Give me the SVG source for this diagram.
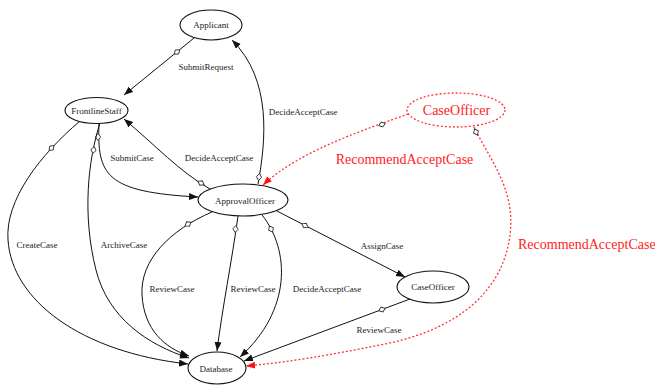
<svg xmlns="http://www.w3.org/2000/svg" xmlns:xlink="http://www.w3.org/1999/xlink" width="655" height="387" viewBox="0 0 655 387">
<style>
.node{fill:#fff;stroke:#111;stroke-width:1.1}
.rnode{fill:none;stroke:#ff3333;stroke-width:1.3;stroke-dasharray:2,2}
.e{fill:none;stroke:#111;stroke-width:1}
.re{fill:none;stroke:#ff3333;stroke-width:1.3;stroke-dasharray:2,2}
.t{font-family:"Liberation Serif","Times New Roman",serif;font-size:9px;fill:#222;text-anchor:middle}
.rt{font-family:"Liberation Serif","Times New Roman",serif;font-size:14px;fill:#ff2222}
</style>
<defs>
<marker id="ah" markerUnits="userSpaceOnUse" markerWidth="10" markerHeight="8" refX="9" refY="3.5" orient="auto"><path d="M0,0 L9,3.5 L0,7 Z" fill="#111"/></marker>
<marker id="rah" markerUnits="userSpaceOnUse" markerWidth="10" markerHeight="8" refX="9" refY="3.5" orient="auto"><path d="M0,0 L9,3.5 L0,7 Z" fill="#ff1111"/></marker>
<path id="dm" d="M-3.5,0 L0,-2.6 L3.5,0 L0,2.6 Z" fill="#fff" stroke="#333" stroke-width="0.9"/>
</defs>
<rect width="655" height="387" fill="#fff"/>
<g id="connectors">
<path class="e" d="M194,38 L124,95" marker-end="url(#ah)"/>
<use xlink:href="#dm" transform="translate(177,52) rotate(141)"/>
<text class="t" x="206" y="70">SubmitRequest</text>

<path class="e" d="M258,184 C266,140 272,80 232,40" marker-end="url(#ah)"/>
<use xlink:href="#dm" transform="translate(259,177) rotate(-80)"/>
<text class="t" x="303" y="115">DecideAcceptCase</text>

<path class="e" d="M210,189 C180,172 155,145 124,119" marker-end="url(#ah)"/>
<use xlink:href="#dm" transform="translate(201,183) rotate(209)"/>
<text class="t" x="219" y="161">DecideAcceptCase</text>

<path class="e" d="M99,123 C97,175 105,192 198,197" marker-end="url(#ah)"/>
<use xlink:href="#dm" transform="translate(98,137) rotate(90)"/>
<text class="t" x="132" y="161">SubmitCase</text>

<path class="e" d="M80,121 C40,155 5,200 8,240 C12,300 80,352 188,364" marker-end="url(#ah)"/>
<use xlink:href="#dm" transform="translate(51.5,148) rotate(133)"/>
<text class="t" x="37" y="248">CreateCase</text>

<path class="e" d="M100,123 C88,160 82,215 96,270 C108,318 148,345 189,358" marker-end="url(#ah)"/>
<use xlink:href="#dm" transform="translate(93.5,150) rotate(102)"/>
<text class="t" x="124" y="248">ArchiveCase</text>

<path class="e" d="M212,212 C170,230 140,260 142,295 C144,330 165,348 189,356" marker-end="url(#ah)"/>
<use xlink:href="#dm" transform="translate(188,224) rotate(148)"/>
<text class="t" x="172" y="292">ReviewCase</text>

<path class="e" d="M238,216 C232,260 222,310 217,351" marker-end="url(#ah)"/>
<use xlink:href="#dm" transform="translate(235.5,229) rotate(98)"/>
<text class="t" x="253" y="292">ReviewCase</text>

<path class="e" d="M262,215 C290,250 292,310 240,357" marker-end="url(#ah)"/>
<use xlink:href="#dm" transform="translate(271,229) rotate(62)"/>
<text class="t" x="327" y="292">DecideAcceptCase</text>

<path class="e" d="M277,211 L405,277" marker-end="url(#ah)"/>
<use xlink:href="#dm" transform="translate(305,225.5) rotate(27)"/>
<text class="t" x="382" y="249">AssignCase</text>

<path class="e" d="M410,299 L244,361" marker-end="url(#ah)"/>
<use xlink:href="#dm" transform="translate(382,309.5) rotate(159.5)"/>
<text class="t" x="379" y="333">ReviewCase</text>

<path class="re" d="M408,114 C370,128 300,150 263,185" marker-end="url(#rah)"/>
<use xlink:href="#dm" transform="translate(382,124.5) rotate(161.5)"/>
<text class="rt" x="404.5" y="164" text-anchor="middle">RecommendAcceptCase</text>

<path class="re" d="M474,127 C490,160 516,190 510,235 C503,290 460,330 380,345 C330,355 290,362 246,366" marker-end="url(#rah)"/>
<use xlink:href="#dm" transform="translate(476,132) rotate(64)"/>
<text class="rt" x="518" y="249">RecommendAcceptCase</text>
</g>
<g id="Applicant"><ellipse class="node" cx="211" cy="25" rx="31" ry="15"/><text class="t" x="211" y="28">Applicant</text></g>
<g id="FrontlineStaff"><ellipse class="node" cx="96.5" cy="110.5" rx="31.5" ry="13"/><text class="t" x="96.5" y="113.5">FrontlineStaff</text></g>
<g id="ApprovalOfficer"><ellipse class="node" cx="243" cy="200" rx="45" ry="16"/><text class="t" x="245" y="203.5">ApprovalOfficer</text></g>
<g id="Database"><ellipse class="node" cx="217" cy="368" rx="29" ry="16"/><text class="t" x="216" y="372">Database</text></g>
<g id="CaseOfficer"><ellipse class="node" cx="433" cy="287" rx="36" ry="16"/><text class="t" x="433" y="290">CaseOfficer</text></g>
<g id="CaseOfficerRed"><ellipse class="rnode" cx="456" cy="110" rx="49" ry="17"/><text class="rt" x="456.5" y="115" text-anchor="middle">CaseOfficer</text></g>
</svg>
